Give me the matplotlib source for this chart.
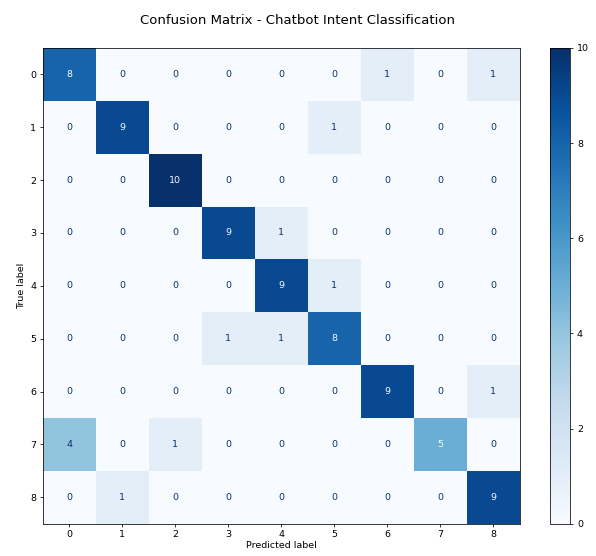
import matplotlib
matplotlib.use("Agg")
import matplotlib.pyplot as plt
import numpy as np

labels = [str(i) for i in range(9)]
cm = np.array([
    [8, 0, 0, 0, 0, 0, 1, 0, 1],
    [0, 9, 0, 0, 0, 1, 0, 0, 0],
    [0, 0, 10, 0, 0, 0, 0, 0, 0],
    [0, 0, 0, 9, 1, 0, 0, 0, 0],
    [0, 0, 0, 0, 9, 1, 0, 0, 0],
    [0, 0, 0, 1, 1, 8, 0, 0, 0],
    [0, 0, 0, 0, 0, 0, 9, 0, 1],
    [4, 0, 1, 0, 0, 0, 0, 5, 0],
    [0, 1, 0, 0, 0, 0, 0, 0, 9],
])

dpi = 68
fig = plt.figure(figsize=(596 / dpi, 556 / dpi), dpi=dpi)
ax = fig.add_axes([0.072, 0.058, 0.800, 0.856])
cax = fig.add_axes([0.923, 0.058, 0.034, 0.856])

cmap = plt.cm.Blues
im = ax.imshow(cm, interpolation="nearest", cmap=cmap, aspect="auto")
fig.colorbar(im, cax=cax)

# text colour like sklearn: dark on light cells, white on dark cells
thresh = (cm.max() + cm.min()) / 2.0
for i in range(cm.shape[0]):
    for j in range(cm.shape[1]):
        color = cmap(1.0) if cm[i, j] < thresh else cmap(0.0)
        ax.text(j, i, format(cm[i, j], "d"), ha="center", va="center", color=color, fontsize=10)

ax.set_xticks(np.arange(len(labels)))
ax.set_yticks(np.arange(len(labels)))
ax.set_xticklabels(labels)
ax.set_yticklabels(labels)
ax.set_xlabel("Predicted label", labelpad=2)
ax.set_ylabel("True label")
fig.suptitle("Confusion Matrix - Chatbot Intent Classification", fontsize=14, y=0.975)

plt.savefig("out.png", dpi=dpi)
